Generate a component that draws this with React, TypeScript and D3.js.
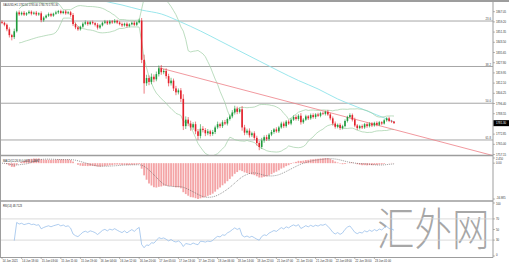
import React from 'react';
import * as d3 from 'd3';

const symbol = 'XAUUSD,H1';
const firstOpen = 1859.2;
const closes = [
  1858.5, 1857.0, 1853.5, 1849.0, 1847.5, 1852.0, 1866.5, 1865.0, 1866.2, 1864.8,
  1865.9, 1867.0, 1865.5, 1866.3, 1864.9, 1865.8, 1860.5, 1862.5, 1864.0, 1865.2,
  1864.0, 1865.5, 1866.5, 1867.5, 1866.0, 1867.2, 1865.8, 1866.6, 1864.5, 1857.5,
  1855.0, 1853.5, 1855.5, 1857.8, 1858.9, 1857.5, 1859.0, 1858.2, 1857.0, 1854.8,
  1856.5, 1858.5, 1859.5, 1858.0, 1859.6, 1858.8, 1860.0, 1858.7, 1857.5, 1856.5,
  1857.8, 1856.0, 1857.3, 1858.5, 1857.0, 1858.8, 1860.2, 1830.0, 1812.0, 1816.0,
  1813.0, 1817.0, 1815.0, 1819.0, 1823.5, 1820.5, 1821.5, 1817.5, 1812.0, 1814.0,
  1808.0, 1805.0, 1806.5, 1800.0, 1779.0, 1784.0, 1781.0, 1778.0, 1780.5, 1775.0,
  1771.5, 1777.0, 1776.0, 1773.5, 1775.0, 1773.0, 1774.5, 1778.0, 1780.5, 1779.0,
  1782.0, 1781.0, 1784.5, 1786.5, 1789.5, 1792.5, 1790.0, 1792.0, 1778.0, 1774.0,
  1775.5, 1772.0, 1773.5, 1770.0, 1766.0, 1763.0, 1768.0, 1770.5, 1769.0, 1772.5,
  1774.5, 1776.5, 1775.0, 1778.0, 1781.0, 1779.0, 1782.5, 1781.0, 1784.0, 1786.0,
  1784.5, 1787.0, 1782.0, 1784.0, 1786.5, 1785.0, 1787.5, 1786.0, 1788.0, 1787.0,
  1789.0, 1788.5, 1790.0, 1788.0, 1785.0, 1781.0, 1778.5, 1780.0, 1777.5, 1779.0,
  1783.0, 1786.0, 1787.5, 1784.0, 1779.5, 1777.5, 1779.0, 1778.0, 1780.5, 1779.0,
  1781.0, 1779.5, 1781.5, 1780.0, 1782.0, 1781.0, 1783.5, 1785.0, 1783.0, 1782.5,
  1781.3,
];
const wickUp = [
  1.2, 0.8, 1.0, 1.5, 1.0, 2.0, 1.2, 1.5, 1.0, 1.4,
  0.8, 1.2, 1.0, 0.9, 1.3, 0.8, 1.5, 1.0, 0.9, 1.2,
  1.0, 0.8, 1.3, 0.9, 1.1, 0.8, 1.2, 0.9, 1.0, 1.5,
  1.2, 1.0, 0.8, 1.1, 1.4, 0.9, 1.0, 1.2, 0.8, 1.3,
  1.0, 0.9, 1.2, 0.8, 1.1, 1.0, 1.4, 0.9, 1.0, 1.2,
  0.8, 1.1, 0.9, 1.0, 1.3, 0.8, 1.5, 2.0, 4.0, 2.5,
  2.0, 2.5, 1.8, 2.0, 2.2, 2.5, 1.5, 2.0, 1.8, 2.2,
  1.6, 2.0, 1.5, 1.8, 3.5, 2.5, 2.0, 2.2, 1.5, 2.0,
  1.8, 3.5, 2.0, 1.5, 1.8, 1.2, 1.6, 1.4, 2.0, 1.2,
  1.5, 1.8, 1.2, 1.5, 1.8, 2.2, 1.5, 1.2, 2.5, 2.0,
  1.5, 1.8, 1.2, 1.5, 1.6, 1.5, 2.0, 1.4, 1.8, 1.2,
  1.5, 1.0, 1.6, 1.2, 1.4, 1.5, 1.2, 1.4, 1.1, 1.3,
  1.5, 1.2, 2.0, 1.1, 1.3, 1.0, 1.2, 1.4, 1.0, 1.3,
  1.1, 1.2, 1.0, 1.5, 1.2, 1.4, 1.6, 1.0, 1.3, 1.1,
  1.2, 1.0, 1.4, 1.2, 1.5, 1.1, 1.0, 1.3, 0.9, 1.2,
  1.0, 1.1, 0.9, 1.2, 1.0, 0.8, 1.1, 0.9, 1.2, 0.8,
  0.5,
];
const wickDn = [
  1.0, 1.2, 1.5, 1.8, 2.5, 1.5, 1.0, 1.2, 0.9, 1.1,
  1.0, 0.8, 1.3, 0.9, 1.2, 1.0, 1.6, 1.2, 0.8, 1.0,
  1.1, 0.9, 0.8, 1.2, 1.0, 0.9, 1.1, 0.8, 1.3, 1.5,
  1.4, 1.2, 1.0, 0.9, 1.1, 1.2, 0.8, 1.0, 1.3, 1.5,
  1.1, 0.8, 1.0, 1.2, 0.9, 1.1, 0.8, 1.2, 1.0, 1.3,
  0.9, 1.2, 1.0, 0.8, 1.1, 1.0, 0.8, 2.5, 8.0, 2.0,
  2.5, 1.8, 2.2, 1.5, 1.8, 2.0, 1.6, 2.0, 2.4, 1.8,
  2.0, 2.2, 1.6, 2.5, 3.0, 2.2, 2.0, 2.5, 1.8, 2.2,
  3.0, 2.0, 1.8, 2.2, 1.5, 1.8, 1.4, 1.6, 1.3, 1.5,
  1.4, 1.2, 1.5, 1.2, 1.4, 1.6, 1.8, 1.3, 2.5, 2.0,
  1.6, 1.8, 1.4, 1.6, 2.0, 2.5, 1.5, 1.8, 1.4, 1.3,
  1.2, 1.4, 1.1, 1.3, 1.0, 1.5, 1.2, 1.1, 1.3, 1.0,
  1.2, 1.4, 1.8, 1.2, 1.0, 1.3, 1.1, 1.2, 1.4, 1.0,
  1.2, 1.0, 1.3, 1.1, 1.5, 1.6, 1.4, 1.2, 1.5, 1.1,
  1.0, 1.2, 1.1, 1.4, 1.3, 1.5, 1.0, 1.2, 1.1, 1.3,
  1.0, 1.2, 0.9, 1.1, 1.0, 1.2, 0.8, 1.1, 0.9, 1.0,
  0.6,
];

// slow moving average (cyan), read at selected bars
const maBars = [36, 40, 49, 57, 65, 73, 81, 89, 97, 105, 113, 121, 129, 137, 145, 153, 160];
const maValues = [1878.3, 1876.0, 1872.2, 1868.3, 1865.3, 1859.1, 1852.2, 1844.5, 1836.8, 1829.1, 1821.4, 1814.1, 1807.6, 1799.9, 1793.7, 1787.6, 1782.4];

// trendline anchors (bar, price)
const trendBars = [64, 160];
const trendPrices = [1824.0, 1776.4];

// Fibonacci retracement
const fibHigh = 1916.4;
const fibLow = 1676.85;
const fibLevels = [0.236, 0.382, 0.5, 0.618];

const timeLabels = [
  '14 Jun 2021', '14 Jun 18:00', '15 Jun 03:00', '15 Jun 11:00', '15 Jun 19:00',
  '16 Jun 04:00', '16 Jun 12:00', '16 Jun 20:00', '17 Jun 05:00', '17 Jun 13:00',
  '17 Jun 21:00', '18 Jun 06:00', '18 Jun 14:00', '18 Jun 22:00', '21 Jun 07:00',
  '21 Jun 15:00', '21 Jun 23:00', '22 Jun 08:00', '22 Jun 16:00', '23 Jun 01:00',
];
const labelStep = 8;
const priceTicks = [1867.05, 1859.2, 1851.35, 1843.5, 1835.65, 1827.8, 1819.95, 1812.1, 1804.25, 1796.4, 1788.55, 1780.7, 1772.85, 1765.0, 1757.15];
const priceDomain = [1756.8, 1874.5];
const rsiTicks = [100, 70, 50, 30, 0];
const rsiLevels = [70, 30];

function ema(arr: number[], n: number) {
  const k = 2 / (n + 1);
  let e = arr[0];
  return arr.map((v, i) => (i === 0 ? e : (e = v * k + e * (1 - k))));
}

export default function App() {
  const W = 509, H = 264;
  const axisX = 493;
  const mainTop = 2, mainBot = 155, macdTop = 158, macdBot = 199, rsiTop = 203, rsiBot = 256;
  const n = closes.length;
  const x = d3.scaleLinear().domain([0, n - 1]).range([2, 2 + 2.45 * (n - 1)]);
  const yP = d3.scaleLinear().domain(priceDomain).range([mainBot, mainTop]);
  const yR = d3.scaleLinear().domain([0, 100]).range([rsiBot, rsiTop]);

  const opens = closes.map((c, i) => (i === 0 ? firstOpen : closes[i - 1]));
  const highs = closes.map((c, i) => Math.max(opens[i], c) + wickUp[i]);
  const lows = closes.map((c, i) => Math.min(opens[i], c) - wickDn[i]);

  // Bollinger bands (20, 2)
  const bands = closes.map((c, i) => {
    const w = closes.slice(Math.max(0, i - 19), i + 1);
    const m = d3.mean(w) as number;
    const sd = Math.sqrt(d3.mean(w.map((v) => (v - m) * (v - m))) as number);
    return { i, up: m + 2 * sd, lo: m - 2 * sd };
  }).filter((b) => b.i >= 7);

  // MACD
  const e12 = ema(closes, 12);
  const e26 = ema(closes, 26);
  const macd = closes.map((_, i) => e12[i] - e26[i]);
  const signal = macd.map((_, i) => d3.mean(macd.slice(Math.max(0, i - 8), i + 1)) as number);
  const mMax = Math.max(d3.max(macd) as number, d3.max(signal) as number);
  const mMin = Math.min(d3.min(macd) as number, d3.min(signal) as number);
  const yM = d3.scaleLinear().domain([mMin, mMax]).range([macdBot, macdTop]);
  const macdTicks = [mMax, 0, mMin];

  // RSI 14
  const rsi: (number | null)[] = [null];
  let ag = 0, al = 0;
  for (let i = 1; i < n; i++) {
    const ch = closes[i] - closes[i - 1];
    const g = Math.max(ch, 0), l = Math.max(-ch, 0);
    if (i <= 14) { ag = (ag * (i - 1) + g) / i; al = (al * (i - 1) + l) / i; }
    else { ag = (ag * 13 + g) / 14; al = (al * 13 + l) / 14; }
    rsi.push(al === 0 ? 100 : 100 - 100 / (1 + ag / al));
  }

  const bandUp = d3.line<any>().x((d) => x(d.i)).y((d) => yP(d.up));
  const bandLo = d3.line<any>().x((d) => x(d.i)).y((d) => yP(d.lo));
  const maLine = d3.line<number>().x((d, i) => x(maBars[i])).y((d) => yP(d)).curve(d3.curveMonotoneX);
  const sigLine = d3.line<number>().x((d, i) => x(i)).y((d) => yM(d));
  const rsiLine = d3.line<number | null>().defined((d, i) => d !== null && i >= 5).x((d, i) => x(i)).y((d) => yR(d as number));

  const slope = (trendPrices[1] - trendPrices[0]) / (trendBars[1] - trendBars[0]);
  const endBar = x.invert(axisX);
  const trendEndPrice = trendPrices[0] + slope * (endBar - trendBars[0]);

  const last = n - 1;
  const lastY = yP(closes[last]);
  const font = 'Liberation Sans, Arial, sans-serif';
  const fs = 2.8;
  const bull = '#1f9a3c', bear = '#e3212b';
  const border = '#9d9d9d';

  return (
    <svg width={W} height={H} style={{ position: 'absolute', left: 0, top: 0, background: '#fff' }} fontFamily={font}>
      <defs>
        <clipPath id="mainClip"><rect x={0} y={mainTop} width={axisX} height={mainBot - mainTop} /></clipPath>
      </defs>
      <rect x={0} y={0} width={W} height={H} fill="#fff" />

      {/* watermark */}
      <text transform="translate(377,246) scale(1,1.2)" x={0} y={0} fontSize={37.5}
        fontFamily="Noto Sans CJK SC, sans-serif" fontWeight={300} fill="#8a8a8a" fillOpacity={0.75}>汇外网</text>

      {/* Fibonacci levels */}
      {fibLevels.map((lv) => {
        const p = fibHigh - lv * (fibHigh - fibLow);
        return (
          <g key={lv}>
            <line x1={0} x2={axisX} y1={yP(p)} y2={yP(p)} stroke="#a6a6a6" strokeWidth={1} />
            <text x={axisX - 2} y={yP(p) - 0.8} fontSize={fs} textAnchor="end" fill="#444">{(lv * 100).toFixed(1)}</text>
          </g>
        );
      })}

      <g clipPath="url(#mainClip)">
        <path d={maLine(maValues) || ''} fill="none" stroke="#8ee3ea" strokeWidth={0.9} />
        <path d={bandUp(bands) || ''} fill="none" stroke="#9fcfa5" strokeWidth={0.7} />
        <path d={bandLo(bands) || ''} fill="none" stroke="#9fcfa5" strokeWidth={0.7} />
        <line x1={x(trendBars[0])} y1={yP(trendPrices[0])} x2={axisX} y2={yP(trendEndPrice)} stroke="#ee7f86" strokeWidth={0.8} />
        {closes.map((c, i) => {
          const o = opens[i];
          const col = c >= o ? bull : bear;
          const yTop = yP(Math.max(o, c));
          const hgt = Math.max(0.6, Math.abs(yP(o) - yP(c)));
          return (
            <g key={i}>
              <line x1={x(i)} x2={x(i)} y1={yP(highs[i])} y2={yP(lows[i])} stroke={col} strokeWidth={0.6} />
              <rect x={x(i) - 0.8} y={yTop} width={1.6} height={hgt} fill={col} />
            </g>
          );
        })}
      </g>

      {/* MACD */}
      {macd.map((v, i) => (
        <rect key={i} x={x(i) - 0.9} width={1.8} y={Math.min(yM(0), yM(v))} height={Math.abs(yM(v) - yM(0))} fill="#f4a4a6" />
      ))}
      <path d={sigLine(signal) || ''} fill="none" stroke="#555" strokeWidth={0.6} strokeDasharray="1,1" />

      {/* RSI */}
      {rsiLevels.map((lv) => (
        <line key={lv} x1={0} x2={axisX} y1={yR(lv)} y2={yR(lv)} stroke="#d2d2d2" strokeWidth={0.8} />
      ))}
      <path d={rsiLine(rsi) || ''} fill="none" stroke="#8db8e8" strokeWidth={0.7} />

      {/* borders */}
      <line x1={0} x2={W} y1={1} y2={1} stroke={border} strokeWidth={2} />
      <line x1={0} x2={axisX} y1={mainBot + 0.5} y2={mainBot + 0.5} stroke={border} strokeWidth={1.3} />
      <line x1={0} x2={axisX} y1={201} y2={201} stroke={border} strokeWidth={1.3} />
      <line x1={0} x2={axisX} y1={rsiBot + 1.5} y2={rsiBot + 1.5} stroke={border} strokeWidth={1} />
      <line x1={0.5} x2={0.5} y1={0} y2={rsiBot + 1.5} stroke={border} strokeWidth={1} />
      <line x1={axisX} x2={axisX} y1={0} y2={rsiBot + 1.5} stroke={border} strokeWidth={1} />

      {/* price axis */}
      {priceTicks.filter((t) => Math.abs(yP(t) - lastY) > 4).map((t) => (
        <g key={t}>
          <line x1={axisX} x2={axisX + 2} y1={yP(t)} y2={yP(t)} stroke="#777" strokeWidth={0.5} />
          <text x={axisX + 3} y={yP(t) + 1} fontSize={fs} fill="#333">{t.toFixed(2)}</text>
        </g>
      ))}
      <rect x={axisX + 0.5} y={lastY - 3} width={W - axisX} height={6} fill="#000" />
      <text x={axisX + 3} y={lastY + 1} fontSize={fs} fill="#fff">{closes[last].toFixed(2)}</text>

      {/* macd axis */}
      {macdTicks.map((t, k) => (
        <g key={k}>
          <line x1={axisX} x2={axisX + 2} y1={yM(t)} y2={yM(t)} stroke="#777" strokeWidth={0.5} />
          <text x={axisX + 3} y={yM(t) + (k === 0 ? 2.2 : k === 2 ? -0.4 : 1)} fontSize={fs} fill="#333">{k === 1 ? '0.00' : t.toFixed(3)}</text>
        </g>
      ))}

      {/* rsi axis */}
      {rsiTicks.map((t) => (
        <g key={t}>
          <line x1={axisX} x2={axisX + 2} y1={yR(t)} y2={yR(t)} stroke="#777" strokeWidth={0.5} />
          <text x={axisX + 3} y={yR(t) + (t === 100 ? 2 : t === 0 ? 0 : 1)} fontSize={fs} fill="#333">{t}</text>
        </g>
      ))}

      {/* time axis */}
      {timeLabels.map((lab, k) => {
        const xi = x(k * labelStep);
        return (
          <g key={lab}>
            <line x1={xi} x2={xi} y1={rsiBot + 1.5} y2={rsiBot + 3} stroke="#777" strokeWidth={0.5} />
            <text x={xi + 0.5} y={rsiBot + 5.5} fontSize={fs} fill="#333">{lab}</text>
          </g>
        );
      })}

      {/* pane titles */}
      <text x={3} y={6} fontSize={2.6} fill="#222">
        {`${symbol}  ${opens[last].toFixed(2)} ${highs[last].toFixed(2)} ${lows[last].toFixed(2)} ${closes[last].toFixed(2)}`}
      </text>
      <text x={3} y={161.5} fontSize={2.6} fill="#222">
        {`MACD(12,26,9) ${macd[last].toFixed(4)} ${signal[last].toFixed(4)}`}
      </text>
      <text x={3} y={206.5} fontSize={2.6} fill="#222">
        {`RSI(14) ${(rsi[last] as number).toFixed(4)}`}
      </text>
    </svg>
  );
}
